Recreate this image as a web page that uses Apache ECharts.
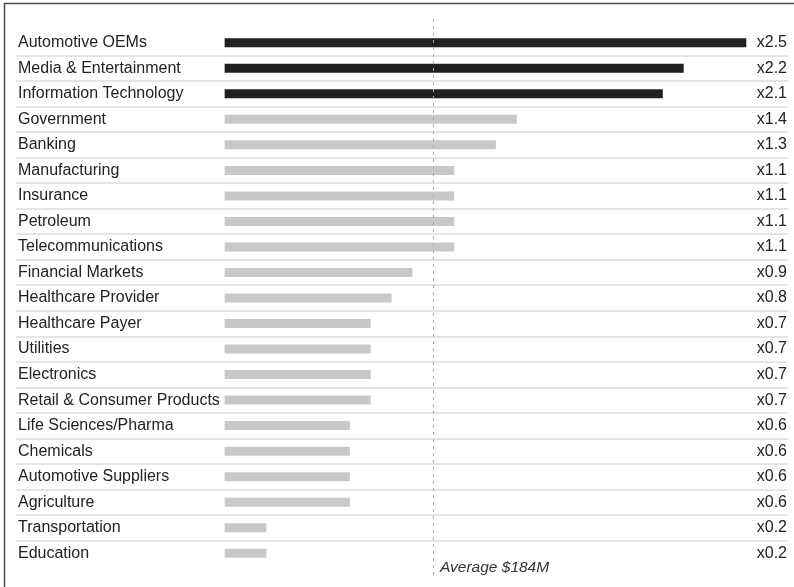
<!DOCTYPE html>
<html>
<head>
    <meta charset="UTF-8">
    <title>Industry multiples</title>
    <script src="https://cdn.jsdelivr.net/npm/echarts@6/dist/echarts.min.js"></script>
    <style>
        html, body { margin: 0; padding: 0; background: #fff; }
        #main { width: 794px; height: 587px; }
    </style>
</head>
<body>
<div id="main"></div>
<script type="text/javascript">
// industries, top to bottom
var industries = ['Automotive OEMs', 'Media & Entertainment', 'Information Technology', 'Government',
    'Banking', 'Manufacturing', 'Insurance', 'Petroleum', 'Telecommunications', 'Financial Markets',
    'Healthcare Provider', 'Healthcare Payer', 'Utilities', 'Electronics', 'Retail & Consumer Products',
    'Life Sciences/Pharma', 'Chemicals', 'Automotive Suppliers', 'Agriculture', 'Transportation', 'Education'];
// multiple of the average
var multiples = [2.5, 2.2, 2.1, 1.4, 1.3, 1.1, 1.1, 1.1, 1.1, 0.9, 0.8, 0.7, 0.7, 0.7, 0.7, 0.6, 0.6, 0.6, 0.6, 0.2, 0.2];
var highlighted = 3;        // first three rows in black
var avgValue = 1.0;
var avgLabel = 'Average $184M';

var multipleLabels = multiples.map(function (v) { return 'x' + v.toFixed(1); });

var font = '"Liberation Sans", Arial, Helvetica, sans-serif';
var sepColors = industries.map(function () { return '#dcdcdc'; });
sepColors.push('transparent');
sepColors[0] = 'transparent';

var myChart = echarts.init(document.getElementById('main'));

var option = {
    animation: false,
    grid: [
        { left: 16, right: 6, top: 30, bottom: 21 },
        { left: 16, right: 6, top: 15, bottom: 12 }
    ],
    xAxis: [
        { gridIndex: 0, type: 'value', min: -1, max: 2.7, show: false },
        { gridIndex: 1, type: 'value', min: -1, max: 2.7, show: false }
    ],
    yAxis: [
        {
            gridIndex: 0, type: 'category', data: industries, inverse: true, position: 'left',
            axisLine: { show: false }, axisTick: { show: false },
            axisLabel: { inside: true, margin: 2, color: '#222', fontSize: 16, fontFamily: font },
            splitLine: { show: true, lineStyle: { color: sepColors, width: 1.5 } }
        },
        {
            gridIndex: 0, type: 'category', data: multipleLabels, inverse: true, position: 'right',
            axisLine: { show: false }, axisTick: { show: false }, splitLine: { show: false },
            axisLabel: { inside: true, margin: 1, color: '#222', fontSize: 16, fontFamily: font, padding: [0, 0, 4, 0] }
        },
        { gridIndex: 1, type: 'value', min: 0, max: 1, show: false }
    ],
    series: [
        {
            type: 'bar', xAxisIndex: 0, yAxisIndex: 0, barWidth: 9,
            data: multiples.map(function (v, i) {
                return { value: v, itemStyle: { color: i < highlighted ? '#231f20' : '#c8c8c8' } };
            })
        },
        {
            type: 'line', xAxisIndex: 1, yAxisIndex: 2, data: [], silent: true,
            markLine: {
                silent: true, symbol: 'none',
                lineStyle: { color: '#aaa', type: [3, 4], width: 1 },
                label: { show: false },
                data: [{ xAxis: avgValue }]
            }
        }
    ],
    graphic: [
        {
            type: 'rect', shape: { x: 4.5, y: 3.5, width: 1000, height: 1000 },
            style: { fill: 'none', stroke: '#4a4a4a', lineWidth: 1.5 }, silent: true
        },
        {
            type: 'text', left: 440, top: 560,
            style: { text: avgLabel, fill: '#333', font: 'italic 15.5px ' + font }
        }
    ]
};

myChart.setOption(option);
</script>
</body>
</html>
